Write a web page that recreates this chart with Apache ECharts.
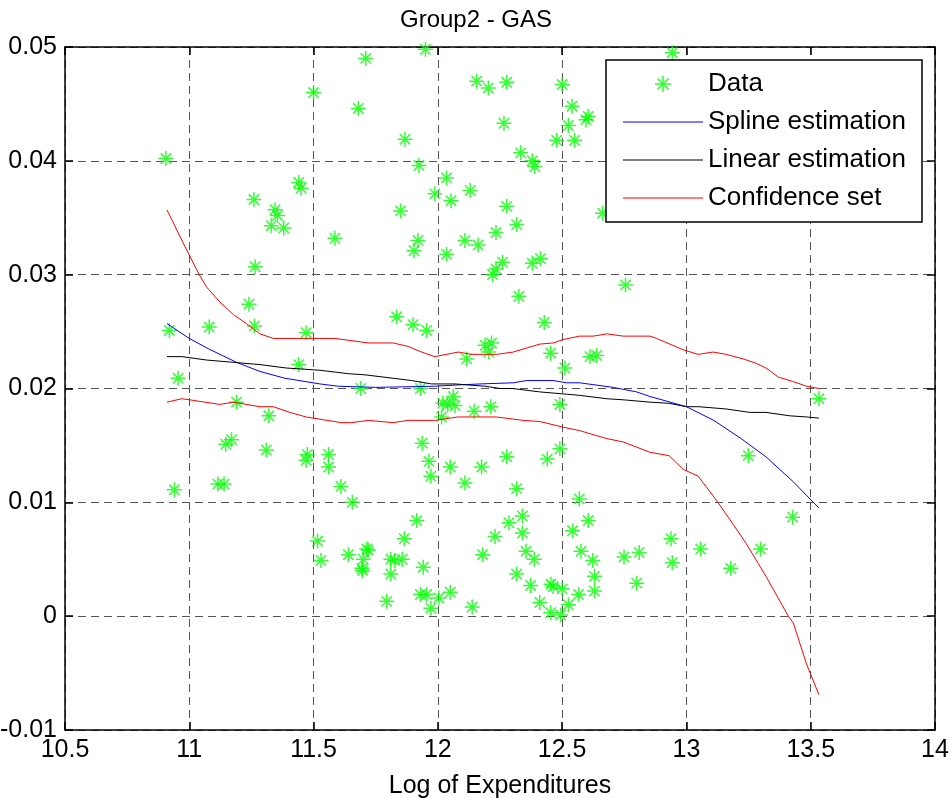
<!DOCTYPE html>
<html><head><meta charset="utf-8">
<script src="https://cdn.jsdelivr.net/npm/echarts@6/dist/echarts.min.js"></script>
<style>html,body{margin:0;padding:0;background:#fff}#c{width:949px;height:798px}</style>
</head><body><div id="c"></div>
<script>
const titleText = 'Group2 - GAS';
const xLabel = 'Log of Expenditures';
const legendNames = ['Data', 'Spline estimation', 'Linear estimation', 'Confidence set'];

const dataX = [10.906,10.92,10.955,10.94,11.08,11.115,11.14,11.147,11.17,11.19,11.24,11.26,11.265,11.262,11.31,11.32,11.33,11.345,11.355,11.38,11.44,11.45,11.44,11.47,11.475,11.47,11.50,11.516,11.53,11.71,11.95,12.156,12.203,12.277,11.68,11.868,11.924,12.035,11.988,12.053,12.13,11.85,11.586,11.92,11.904,12.035,12.109,12.162,12.50,12.54,12.605,12.596,12.525,12.478,12.55,12.266,12.333,12.38,12.39,12.277,12.317,12.234,12.26,12.234,12.22,12.38,12.413,12.663,12.943,11.834,11.90,11.955,12.116,12.19,11.69,11.93,12.062,12.02,12.04,12.069,12.015,12.146,12.213,11.56,11.56,11.937,11.964,11.972,12.05,12.176,12.109,11.61,11.656,12.326,12.755,12.428,12.216,12.205,12.454,12.612,12.639,12.511,12.491,12.491,12.44,12.277,12.317,12.569,13.533,13.249,11.915,11.64,11.714,11.72,11.70,11.694,11.697,11.865,11.811,11.827,11.857,11.811,11.941,11.794,11.93,11.955,12.004,11.972,12.05,12.138,12.18,12.34,12.286,12.605,12.34,12.23,12.542,12.355,12.388,12.576,12.623,12.749,12.81,12.317,12.373,12.455,12.464,12.50,12.63,12.63,12.566,12.525,12.41,12.454,12.494,12.80,13.427,12.938,12.943,13.057,13.178,13.298];
const dataY = [0.0402,0.0251,0.0209,0.0111,0.0254,0.0116,0.0116,0.0151,0.0155,0.0188,0.0274,0.0366,0.0307,0.0255,0.0146,0.0176,0.0343,0.0357,0.0352,0.0341,0.0381,0.0376,0.0221,0.0249,0.0142,0.0137,0.0460,0.0066,0.0049,0.0490,0.0498,0.0470,0.0464,0.0469,0.0446,0.0419,0.0396,0.0385,0.0371,0.0365,0.0374,0.0356,0.0332,0.0330,0.0321,0.0318,0.0330,0.0326,0.0467,0.0448,0.0439,0.0436,0.0431,0.0418,0.0418,0.0433,0.0407,0.0400,0.0395,0.0360,0.0344,0.0337,0.0311,0.0305,0.0300,0.0310,0.0314,0.0354,0.0495,0.0263,0.0256,0.0251,0.0226,0.0238,0.0200,0.0200,0.0193,0.0187,0.0186,0.0185,0.0175,0.0180,0.0184,0.0142,0.0131,0.0152,0.0136,0.0123,0.0131,0.0131,0.0117,0.0114,0.0100,0.0281,0.0291,0.0258,0.0240,0.0232,0.0231,0.0228,0.0229,0.0218,0.0186,0.0147,0.0138,0.0140,0.0112,0.0103,0.0191,0.0141,0.0084,0.0054,0.0059,0.0058,0.0050,0.0042,0.0040,0.0068,0.0050,0.0049,0.0050,0.0037,0.0043,0.0013,0.0019,0.0019,0.0016,0.0007,0.0021,0.0008,0.0054,0.0088,0.0082,0.0084,0.0073,0.0070,0.0075,0.0057,0.0050,0.0057,0.0049,0.0052,0.0056,0.0037,0.0027,0.0028,0.0026,0.0024,0.0035,0.0022,0.0019,0.0010,0.0012,0.0003,0.0001,0.0029,0.0087,0.0068,0.0047,0.0059,0.0042,0.0059];

const splineX = [10.91,11.0,11.076,11.19,11.284,11.385,11.526,11.60,11.75,11.988,12.069,12.17,12.303,12.357,12.464,12.518,12.57,12.705,12.80,12.853,13.0,13.11,13.22,13.32,13.43,13.533];
const splineY = [0.0257,0.0244,0.0235,0.0223,0.0215,0.0209,0.0204,0.0202,0.0201,0.0202,0.0203,0.0204,0.0205,0.0207,0.0207,0.0205,0.0205,0.0201,0.0197,0.0193,0.0184,0.0172,0.0156,0.0140,0.0118,0.0095];

const linearX = [10.91,10.97,11.07,11.177,11.284,11.39,11.46,11.526,11.64,11.707,11.82,11.894,11.975,12.069,12.19,12.25,12.30,12.41,12.518,12.57,12.68,12.75,12.853,12.93,13.0,13.05,13.16,13.255,13.32,13.416,13.483,13.533];
const linearY = [0.0228,0.0228,0.0225,0.0223,0.0221,0.0218,0.0217,0.0216,0.0213,0.0212,0.0209,0.0207,0.0204,0.0204,0.0202,0.0200,0.0200,0.0197,0.0195,0.0194,0.0191,0.0190,0.0188,0.0187,0.0184,0.0184,0.0182,0.0179,0.0179,0.0176,0.0175,0.0174];

const upperX = [10.91,10.975,11.04,11.07,11.123,11.177,11.23,11.284,11.338,11.586,11.72,11.82,11.88,11.935,11.988,12.082,12.136,12.236,12.303,12.41,12.464,12.504,12.57,12.625,12.68,12.746,12.853,12.88,12.987,13.047,13.108,13.16,13.228,13.282,13.32,13.37,13.43,13.483,13.533];
const upperY = [0.0357,0.0328,0.0300,0.0289,0.0276,0.0265,0.0257,0.0248,0.0244,0.0244,0.0240,0.0240,0.0237,0.0232,0.0228,0.0232,0.0230,0.0230,0.0232,0.0239,0.0240,0.0243,0.0246,0.0246,0.0248,0.0246,0.0246,0.0244,0.0234,0.0230,0.0232,0.0230,0.0226,0.0222,0.0218,0.0210,0.0206,0.0202,0.0200];

const lowerX = [10.91,10.97,11.003,11.123,11.177,11.284,11.338,11.405,11.47,11.526,11.613,11.653,11.72,11.82,11.88,11.988,12.08,12.236,12.343,12.41,12.504,12.57,12.68,12.746,12.853,12.93,12.987,13.047,13.12,13.168,13.24,13.32,13.41,13.43,13.483,13.533];
const lowerY = [0.0188,0.0191,0.0190,0.0186,0.0188,0.0184,0.0184,0.0179,0.0175,0.0173,0.0170,0.0170,0.0172,0.0170,0.0172,0.0172,0.0175,0.0175,0.0172,0.0171,0.0166,0.0163,0.0156,0.0153,0.0144,0.0141,0.0129,0.0123,0.0102,0.0087,0.0064,0.0035,0.0000,-0.0006,-0.0042,-0.0069];

const xTicks = {min: 10.5, max: 14, interval: 0.5};
const yTicks = {min: -0.01, max: 0.05, interval: 0.01};

const zip = (a, b) => a.map((v, i) => [v, b[i]]);
const star = 'path://M-1,-10L1,-10L1,10L-1,10Z M-10,-1L10,-1L10,1L-10,1Z M-6.2,-7.6L7.6,6.2L6.2,7.6L-7.6,-6.2Z M6.2,-7.6L7.6,-6.2L-6.2,7.6L-7.6,6.2Z';
const lineIcon = 'path://M0,0L80,0L80,1.2L0,1.2Z';
const font = 'Liberation Sans, Arial, Helvetica, sans-serif';
const fmt = v => String(parseFloat(Number(v).toFixed(4)));
const dashed = {show: true, lineStyle: {color: '#555', type: [8, 5], width: 1}};

const chart = echarts.init(document.getElementById('c'));
chart.setOption({
  animation: false,
  backgroundColor: '#fff',
  textStyle: {fontFamily: font},
  title: {text: titleText, left: 471, top: 3, textAlign: 'center',
    textStyle: {fontSize: 24, fontWeight: 'normal', color: '#000', fontFamily: font}},
  grid: {left: 65, right: 14, top: 47, bottom: 68, containLabel: false, outerBoundsMode: 'none'},
  legend: {
    orient: 'vertical', left: 606, top: 60,
    backgroundColor: '#fff', borderColor: '#000', borderWidth: 1.5, borderRadius: 0,
    padding: [11, 16, 11, 17], itemGap: 12, itemWidth: 80, itemHeight: 16,
    itemTextGap: 9, textStyle: {fontSize: 26, color: '#000', fontFamily: font},
    data: [
      {name: legendNames[0], icon: star},
      {name: legendNames[1], icon: lineIcon},
      {name: legendNames[2], icon: lineIcon},
      {name: legendNames[3], icon: lineIcon}
    ]
  },
  xAxis: [
    {type: 'value', min: xTicks.min, max: xTicks.max, interval: xTicks.interval,
     name: xLabel, nameLocation: 'middle', nameGap: 44,
     nameTextStyle: {fontSize: 25, color: '#000', fontFamily: font},
     axisLine: {show: true, onZero: false, lineStyle: {color: '#000', width: 1.5}},
     axisTick: {show: true, inside: true, length: 8, lineStyle: {color: '#000', width: 1.5}},
     axisLabel: {fontSize: 25, color: '#000', margin: 8, formatter: fmt, fontFamily: font},
     splitLine: dashed},
    {type: 'value', position: 'top', min: xTicks.min, max: xTicks.max, interval: xTicks.interval,
     axisLine: {show: true, onZero: false, lineStyle: {color: '#000', width: 1.5}},
     axisTick: {show: true, inside: true, length: 8, lineStyle: {color: '#000', width: 1.5}},
     axisLabel: {show: false}, splitLine: {show: false}}
  ],
  yAxis: [
    {type: 'value', min: yTicks.min, max: yTicks.max, interval: yTicks.interval,
     axisLine: {show: true, onZero: false, lineStyle: {color: '#000', width: 1.5}},
     axisTick: {show: true, inside: true, length: 8, lineStyle: {color: '#000', width: 1.5}},
     axisLabel: {fontSize: 25, color: '#000', margin: 8, formatter: fmt, fontFamily: font},
     splitLine: dashed},
    {type: 'value', position: 'right', min: yTicks.min, max: yTicks.max, interval: yTicks.interval,
     axisLine: {show: true, onZero: false, lineStyle: {color: '#000', width: 1.5}},
     axisTick: {show: true, inside: true, length: 8, lineStyle: {color: '#000', width: 1.5}},
     axisLabel: {show: false}, splitLine: {show: false}}
  ],
  series: [
    {name: legendNames[0], type: 'scatter', symbol: star, symbolSize: 15,
     itemStyle: {color: '#00ff00'}, data: zip(dataX, dataY), z: 2},
    {name: legendNames[1], type: 'line', symbol: 'none', lineStyle: {color: '#0000ff', width: 1},
     itemStyle: {color: '#0000ff'}, data: zip(splineX, splineY), z: 3},
    {name: legendNames[2], type: 'line', symbol: 'none', lineStyle: {color: '#000', width: 1},
     itemStyle: {color: '#000'}, data: zip(linearX, linearY), z: 3},
    {name: legendNames[3], type: 'line', symbol: 'none', lineStyle: {color: '#ff0000', width: 1},
     itemStyle: {color: '#ff0000'}, data: zip(upperX, upperY), z: 3},
    {name: legendNames[3], type: 'line', symbol: 'none', lineStyle: {color: '#ff0000', width: 1},
     itemStyle: {color: '#ff0000'}, data: zip(lowerX, lowerY), z: 3}
  ]
});
</script></body></html>
